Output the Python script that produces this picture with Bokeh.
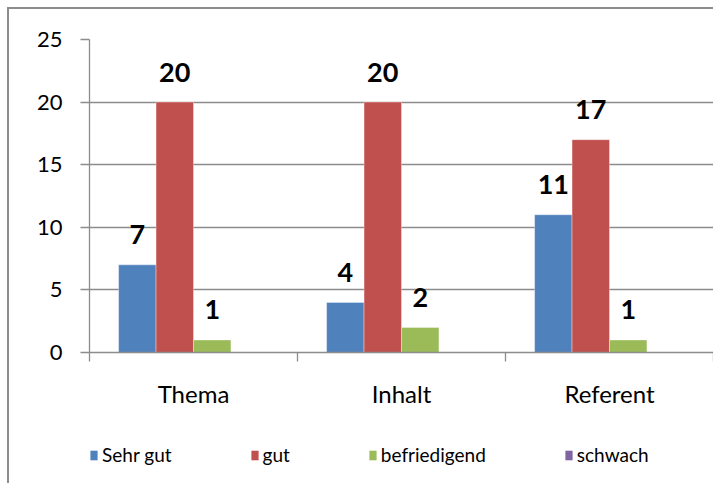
from bokeh.plotting import figure
from bokeh.layouts import column
from bokeh.models import ColumnDataSource, FixedTicker, Legend, LegendItem, Range1d
from bokeh.core.properties import value
from bokeh.embed import file_html
from bokeh.resources import INLINE

categories = ["Thema", "Inhalt", "Referent"]
series_names = ["Sehr gut", "gut", "befriedigend", "schwach"]
sehr_gut = [7, 4, 11]
gut = [20, 20, 17]
befriedigend = [1, 2, 1]
schwach = [0, 0, 0]
y_ticks = [0, 5, 10, 15, 20, 25]

series_values = [sehr_gut, gut, befriedigend, schwach]
colors = ["#4F81BD", "#C0504D", "#9BBB59", "#8064A2"]
offsets = [-0.27, -0.09, 0.09, 0.27]
bar_w = 0.18
FONT = "Lato"
GRAY = "#8c8c8c"

p = figure(width=704, height=410, output_backend="svg", toolbar_location=None,
           x_range=Range1d(0, 3), y_range=Range1d(0, 25),
           min_border_left=80, min_border_right=0, min_border_top=30, min_border_bottom=67)
p.outline_line_color = None
p.xgrid.grid_line_color = None
p.ygrid.grid_line_color = GRAY
p.ygrid.grid_line_width = 1.3
p.ygrid.ticker = FixedTicker(ticks=y_ticks)

sources = []
for name, vals, col, off in zip(series_names, series_values, colors, offsets):
    xs = [i + 0.5 + off for i in range(len(categories))]
    src = ColumnDataSource(dict(x=xs, top=vals))
    sources.append(src)
    p.vbar(x="x", top="top", bottom=0, width=bar_w, source=src,
           fill_color=col, line_color="white", line_alpha=0.35, line_width=1)
    lx = [x for x, v in zip(xs, vals) if v != 0]
    lv = [v for v in vals if v != 0]
    lsrc = ColumnDataSource(dict(x=lx, y=lv, t=[str(v) for v in lv]))
    p.text(x="x", y="y", text="t", source=lsrc, text_align="center", text_baseline="middle",
           y_offset=-30, text_font=value(FONT), text_font_style="bold",
           text_font_size="27px", text_color="black")

# axes
p.yaxis.ticker = FixedTicker(ticks=y_ticks)
p.yaxis.axis_line_color = GRAY
p.yaxis.axis_line_width = 1.3
p.yaxis.major_tick_line_color = GRAY
p.yaxis.major_tick_line_width = 1.3
p.yaxis.major_tick_out = 9
p.yaxis.major_tick_in = 0
p.yaxis.minor_tick_line_color = None
p.yaxis.major_label_standoff = 18
p.yaxis.major_label_text_font = FONT
p.yaxis.major_label_text_font_size = "22px"
p.yaxis.major_label_text_color = "black"

p.xaxis.ticker = FixedTicker(ticks=[i + 0.5 for i in range(len(categories))],
                             minor_ticks=list(range(len(categories) + 1)))
p.xaxis.major_label_overrides = {i + 0.5: c for i, c in enumerate(categories)}
p.xaxis.axis_line_color = GRAY
p.xaxis.axis_line_width = 1.3
p.xaxis.major_tick_line_color = None
p.xaxis.major_tick_out = 0
p.xaxis.major_tick_in = 0
p.xaxis.minor_tick_line_color = GRAY
p.xaxis.minor_tick_line_width = 1.3
p.xaxis.minor_tick_out = 9
p.xaxis.minor_tick_in = 0
p.xaxis.major_label_standoff = 17
p.xaxis.major_label_text_font = FONT
p.xaxis.major_label_text_font_size = "24px"
p.xaxis.major_label_text_color = "black"

# legend strip (its frame is aligned with the main plot's frame)
q = figure(width=704, height=64, output_backend="svg", toolbar_location=None,
           x_range=Range1d(0, 3), y_range=Range1d(0, 25),
           x_axis_location=None, y_axis_location=None,
           min_border_left=0, min_border_right=0, min_border_top=0, min_border_bottom=0)
q.grid.grid_line_color = None
q.outline_line_color = None
items = []
for name, col, src in zip(series_names, colors, sources):
    r = q.vbar(x="x", top="top", bottom=0, width=bar_w, source=src,
               fill_color=col, line_color=None, visible=False)
    items.append(LegendItem(label=name, renderers=[r]))
legend = Legend(items=items, orientation="horizontal", location=(0, 17),
                glyph_width=9, glyph_height=12, label_standoff=4, spacing=78,
                padding=0, margin=0, border_line_color=None, background_fill_alpha=0,
                inactive_fill_alpha=0,
                label_text_font=FONT, label_text_font_size="19px", label_height=20,
                label_text_color="black")
q.add_layout(legend, "center")

layout = column(p, q, spacing=0, margin=(7, 0, 0, 7),
                styles={"border-top": "2px solid " + GRAY, "border-left": "2px solid " + GRAY})

open("out.html", "w").write(file_html(layout, INLINE))
